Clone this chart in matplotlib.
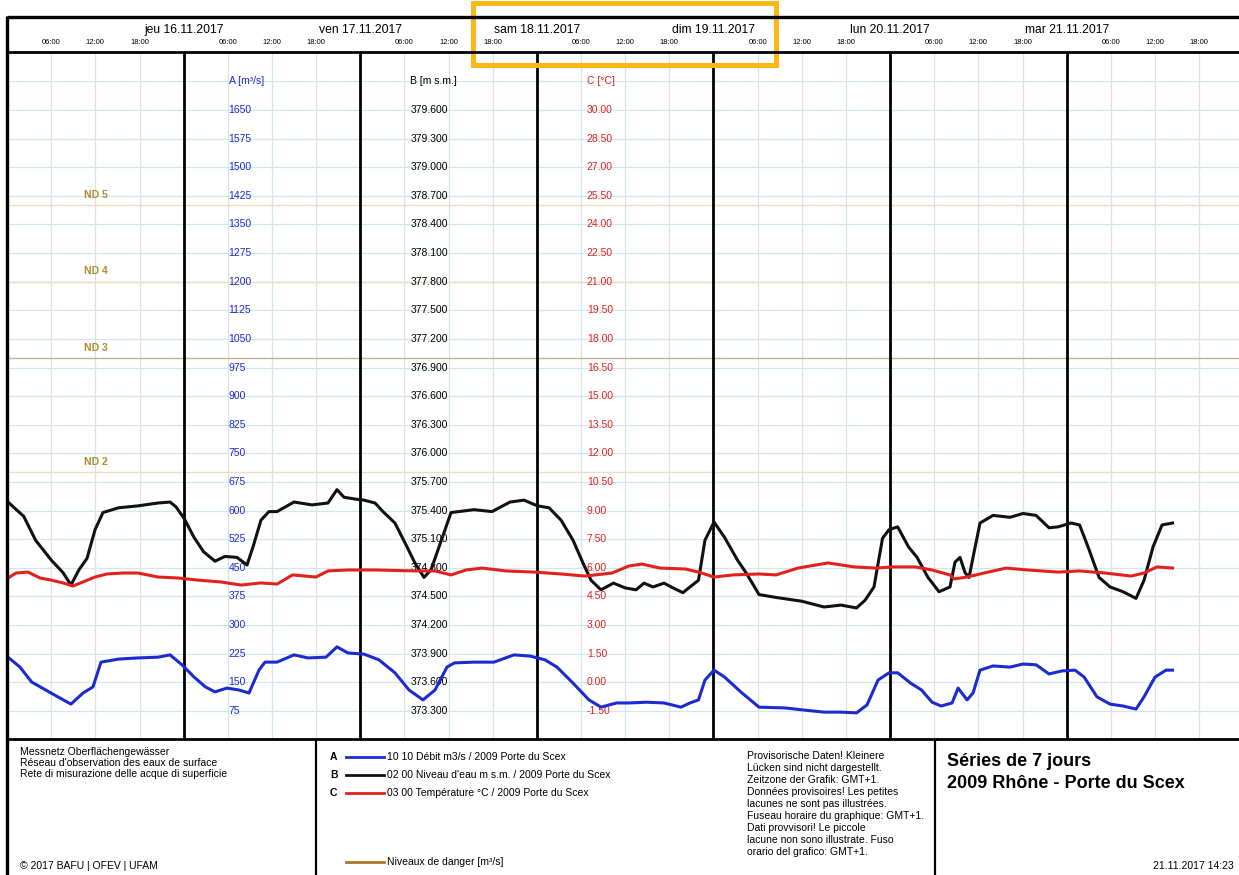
import numpy as np
import matplotlib
matplotlib.use('Agg')
import matplotlib.pyplot as plt
from matplotlib.patches import Rectangle
from matplotlib.transforms import blended_transform_factory

plt.rcParams['font.family'] = ['Liberation Sans', 'DejaVu Sans']

# hours since 15.11.2017 00:00
a_hours = [0.12, 1.75, 3.33, 5.97, 8.68, 10.31, 11.67, 12.76, 15.15, 17.79,
           20.51, 22.14, 23.77, 25.40, 26.96, 28.25, 29.88, 31.52, 32.87, 34.23,
           35.05, 36.68, 38.99, 40.89, 43.34, 44.83, 46.33, 48.50, 50.54, 52.71,
           54.62, 56.52, 58.15, 59.78, 60.80, 63.45, 66.17, 68.89, 71.06, 73.10,
           74.73, 76.91, 79.08, 80.71, 82.82, 84.51, 86.90, 89.27, 91.58, 92.80,
           93.96, 94.84, 96.07, 97.50, 99.88, 102.19, 105.72, 108.03, 111.02, 113.33,
           115.44, 116.87, 118.36, 119.85, 121.03, 122.79, 124.27, 125.70, 126.93, 128.42,
           129.24, 130.46, 131.27, 132.22, 133.99, 136.30, 138.07, 139.84, 141.60, 143.37,
           145.13, 146.36, 148.12, 149.89, 151.66, 153.42, 154.51, 156.01, 157.50, 158.38]
# A: discharge [m3/s]
a_values = [216, 190, 151, 122, 93, 122, 138, 203, 211, 214,
            216, 222, 196, 164, 138, 125, 135, 130, 122, 182,
            203, 203, 222, 214, 216, 243, 227, 224, 209, 175,
            130, 104, 130, 190, 201, 203, 203, 222, 219, 209,
            190, 148, 104, 85, 96, 96, 98, 96, 85, 96,
            104, 156, 182, 164, 122, 85, 83, 78, 72, 72,
            70, 91, 156, 175, 175, 148, 130, 98, 88, 96,
            135, 104, 122, 182, 193, 190, 198, 196, 172, 180,
            182, 164, 112, 93, 88, 80, 112, 164, 182, 182]

b_hours = [0.12, 2.26, 3.87, 6.02, 7.60, 8.68, 9.77, 10.86, 11.95, 13.03,
           15.15, 17.79, 20.51, 22.14, 22.95, 24.04, 25.40, 26.69, 28.25, 29.61,
           31.24, 32.60, 33.42, 34.50, 35.59, 36.68, 38.99, 41.44, 43.61, 44.83,
           45.79, 47.42, 48.50, 50.00, 51.08, 52.71, 54.35, 55.43, 56.66, 57.61,
           58.70, 60.33, 63.45, 65.90, 68.34, 70.25, 72.08, 73.65, 75.28, 76.91,
           78.27, 79.36, 80.71, 82.40, 84.00, 85.47, 86.56, 87.78, 89.27, 90.50,
           91.85, 92.80, 93.96, 94.84, 96.07, 97.50, 99.27, 100.42, 102.19, 104.50,
           108.03, 111.02, 113.33, 115.44, 116.59, 117.81, 118.97, 119.85, 121.03, 122.50,
           123.66, 125.15, 126.65, 128.14, 128.82, 129.50, 130.18, 130.73, 131.27, 132.22,
           133.99, 136.30, 138.07, 139.84, 141.60, 142.83, 144.59, 145.75, 146.90, 148.40,
           149.89, 151.66, 153.42, 154.51, 155.73, 156.96, 158.38]
# B: water level [m a.s.l.]
b_values = [375.49, 375.34, 375.09, 374.88, 374.75, 374.62, 374.78, 374.90, 375.20, 375.38,
            375.43, 375.45, 375.48, 375.49, 375.44, 375.32, 375.12, 374.97, 374.87, 374.92,
            374.91, 374.83, 375.02, 375.30, 375.39, 375.39, 375.49, 375.46, 375.48, 375.62,
            375.54, 375.52, 375.51, 375.48, 375.39, 375.27, 375.02, 374.85, 374.70, 374.78,
            375.02, 375.38, 375.41, 375.39, 375.49, 375.51, 375.45, 375.43, 375.30, 375.09,
            374.85, 374.67, 374.57, 374.64, 374.59, 374.57, 374.64, 374.60, 374.64, 374.59,
            374.54, 374.60, 374.67, 375.09, 375.28, 375.12, 374.88, 374.75, 374.52, 374.49,
            374.45, 374.39, 374.41, 374.38, 374.46, 374.60, 375.11, 375.20, 375.23, 375.02,
            374.91, 374.70, 374.55, 374.60, 374.86, 374.91, 374.75, 374.70, 374.91, 375.27,
            375.35, 375.33, 375.37, 375.35, 375.22, 375.23, 375.27, 375.25, 375.02, 374.70,
            374.60, 374.55, 374.48, 374.67, 375.02, 375.25, 375.27]

c_hours = [0.12, 1.21, 2.84, 4.47, 5.97, 7.60, 8.96, 10.31, 11.95, 13.58,
           15.68, 17.79, 20.51, 23.23, 25.94, 29.07, 31.79, 34.50, 36.68, 38.79,
           41.98, 43.61, 46.33, 50.00, 55.43, 58.15, 60.33, 62.37, 64.54, 67.80,
           71.61, 75.28, 78.54, 82.21, 84.51, 86.28, 88.73, 92.19, 93.96, 96.07,
           98.65, 102.19, 104.50, 107.49, 111.57, 115.10, 118.09, 120.40, 123.39, 125.70,
           128.14, 128.69, 130.46, 132.77, 135.76, 138.68, 142.83, 145.75, 149.21, 152.75,
           154.51, 156.28, 158.38]
# C: water temperature [degC]
c_values = [5.47, 5.73, 5.78, 5.47, 5.36, 5.21, 5.05, 5.26, 5.52, 5.68,
            5.73, 5.73, 5.52, 5.47, 5.36, 5.26, 5.10, 5.21, 5.15, 5.63,
            5.52, 5.84, 5.89, 5.89, 5.84, 5.84, 5.63, 5.89, 5.99, 5.84,
            5.78, 5.68, 5.57, 5.73, 6.10, 6.20, 5.99, 5.94, 5.78, 5.52,
            5.63, 5.68, 5.63, 5.99, 6.26, 6.05, 5.99, 6.05, 6.05, 5.89,
            5.63, 5.42, 5.52, 5.73, 5.99, 5.89, 5.78, 5.84, 5.73, 5.57,
            5.73, 6.05, 5.99]

# danger levels on the discharge scale
nd_names = ['ND 2', 'ND 3', 'ND 4', 'ND 5']
nd_values = [700, 1000, 1200, 1400]

a_ticks = np.arange(75, 1651, 75)
b_ticks = np.arange(373.3, 379.61, 0.3)
c_ticks = np.arange(-1.5, 30.01, 1.5)

day_labels = ['jeu 16.11.2017', 'ven 17.11.2017', 'sam 18.11.2017',
              'dim 19.11.2017', 'lun 20.11.2017', 'mar 21.11.2017']
hour_labels = ['06:00', '12:00', '18:00']

BLUE = '#1c2bd0'
RED = '#e3211c'
GRID = '#d3e6ea'
ND_COLOR = '#b38b2c'

W, H = 1239, 875
X0, DAY = 7.1, 176.6
TOP, BOTTOM = 52.7, 739.6

fig = plt.figure(figsize=(W / 100, H / 100), dpi=100)
ax = fig.add_axes([X0 / W, 1 - BOTTOM / H, 1 - X0 / W, (BOTTOM - TOP) / H])
xmax = (W - X0) / DAY * 24
ax.set_xlim(0, xmax)
ax.set_ylim(0, 1800)
ax.axis('off')

axb = ax.twinx()
axb.set_ylim(373, 380.2)
axb.axis('off')
axc = ax.twinx()
axc.set_ylim(-3, 33)
axc.axis('off')

# grid every 6 h and every scale step
for h in np.arange(6, xmax, 6):
    ax.axvline(h, color=GRID, lw=0.9, zorder=1)
for v in np.arange(75, 1800, 75):
    ax.axhline(v, color=GRID, lw=0.9, zorder=1)

nd_line_colors = ['#f0dcc0', '#c4b092', '#f0dcc0', '#f0dcc0']
for name, v, col in zip(nd_names, nd_values, nd_line_colors):
    ax.axhline(v, color=col, lw=1.0, zorder=2)
    ax.annotate(name, (12, v), xytext=(0, 7.5), textcoords='offset points',
                ha='center', va='center', fontsize=7.5, color=ND_COLOR,
                fontweight='bold', zorder=3)

for h in range(24, 168, 24):
    ax.axvline(h, color='black', lw=2.0, zorder=4)

# scale labels written inside the plot
xa, xb, xc = 30.1, 54.8, 78.8
ax.text(xa, 1725, 'A [m³/s]', color=BLUE, fontsize=7.5, va='center', zorder=3)
for v in a_ticks:
    ax.text(xa, v, f'{v}', color=BLUE, fontsize=7.5, va='center', zorder=3)
ax.text(xb, 379.9, 'B [m s.m.]', color='black', fontsize=7.5, va='center',
        transform=axb.transData, zorder=3)
for v in b_ticks:
    ax.text(xb, v, f'{v:.3f}', color='black', fontsize=7.5, va='center',
            transform=axb.transData, zorder=3)
ax.text(xc, 31.5, 'C [°C]', color=RED, fontsize=7.5, va='center',
        transform=axc.transData, zorder=3)
for v in c_ticks:
    ax.text(xc, v, f'{v:.2f}', color=RED, fontsize=7.5, va='center',
            transform=axc.transData, zorder=3)

ax.plot(a_hours, a_values, color=BLUE, lw=2.2, zorder=6, solid_joinstyle='round')
axb.plot(b_hours, b_values, color='#111111', lw=2.2, solid_joinstyle='round')
axc.plot(c_hours, c_values, color=RED, lw=2.2, solid_joinstyle='round')

# frame, header and footer in pixel coordinates
over = fig.add_axes([0, 0, 1, 1])
over.set_xlim(0, W)
over.set_ylim(H, 0)
over.axis('off')
over.patch.set_visible(False)

k = dict(color='black', solid_capstyle='butt')
over.plot([X0, W], [17, 17], lw=2.4, **k)
over.plot([X0, W], [52, 52], lw=2.0, **k)
over.plot([X0, W], [739, 739], lw=2.0, **k)
over.plot([X0, X0], [16, H], lw=2.4, **k)
over.plot([316, 316], [739, H], lw=1.6, **k)
over.plot([935, 935], [739, H], lw=1.6, **k)

hdr = blended_transform_factory(ax.transData, over.transData)
for i, lab in enumerate(day_labels):
    over.text(24 * (i + 1), 30, lab, transform=hdr, ha='center', va='center',
              fontsize=8.7)
for d in range(7):
    for j, lab in enumerate(hour_labels):
        over.text(24 * d + 6 * (j + 1), 43, lab, transform=hdr, ha='center',
                  va='center', fontsize=5.5)

foot = dict(fontsize=7.5, va='center', ha='left')
for i, line in enumerate(['Messnetz Oberflächengewässer',
                          "Réseau d'observation des eaux de surface",
                          'Rete di misurazione delle acque di superficie']):
    over.text(20, 752 + 11 * i, line, **foot)
over.text(20, 866, '© 2017 BAFU | OFEV | UFAM', **foot)

legend_rows = [('A', BLUE, '10 10 Débit m3/s / 2009 Porte du Scex'),
               ('B', '#111111', "02 00 Niveau d'eau m s.m. / 2009 Porte du Scex"),
               ('C', RED, '03 00 Température °C / 2009 Porte du Scex')]
for i, (letter, col, txt) in enumerate(legend_rows):
    y = 757 + 18 * i
    over.text(330, y, letter, fontweight='bold', **foot)
    over.plot([346, 384], [y, y], color=col, lw=2.0)
    over.text(387, y, txt, **foot)
over.plot([346, 384], [862, 862], color='#a8782a', lw=2.0)
over.text(387, 862, 'Niveaux de danger [m³/s]', **foot)

note = ['Provisorische Daten! Kleinere', 'Lücken sind nicht dargestellt.',
        'Zeitzone der Grafik: GMT+1.', 'Données provisoires! Les petites',
        'lacunes ne sont pas illustrées.', 'Fuseau horaire du graphique: GMT+1.',
        'Dati provvisori! Le piccole', 'lacune non sono illustrate. Fuso',
        'orario del grafico: GMT+1.']
for i, line in enumerate(note):
    over.text(747, 756 + 12 * i, line, **foot)

over.text(947, 762, 'Séries de 7 jours', fontsize=13, fontweight='bold', va='center')
over.text(947, 783, '2009 Rhône - Porte du Scex', fontsize=13, fontweight='bold',
          va='center')
over.text(1234, 866, '21.11.2017 14:23', fontsize=7.5, va='center', ha='right')

over.add_patch(Rectangle((472.5, 2.5), 303.5, 62.5, fill=False,
                         edgecolor='#fdb714', lw=3.6, clip_on=False))

fig.savefig('out.png', dpi=100)
